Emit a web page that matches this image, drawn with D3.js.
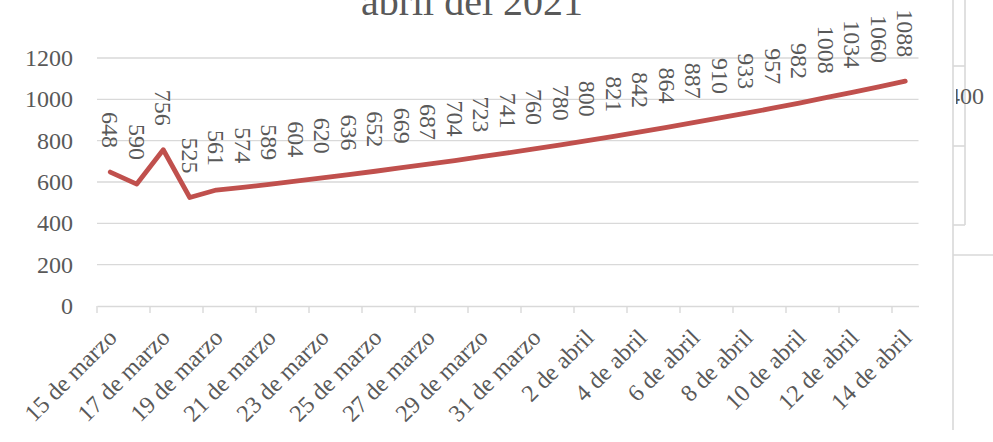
<!DOCTYPE html>
<html>
<head>
<meta charset="utf-8">
<script src="https://cdn.jsdelivr.net/npm/d3@7"></script>
<style>
  body { margin: 0; background: #fff; }
  svg { display: block; font-family: "Liberation Serif", "DejaVu Serif", serif; }
</style>
</head>
<body>
<div id="chart"></div>
<script>
// daily categories, 15 de marzo .. 14 de abril
var dias = ["15 de marzo", "16 de marzo", "17 de marzo", "18 de marzo", "19 de marzo",
    "20 de marzo", "21 de marzo", "22 de marzo", "23 de marzo", "24 de marzo",
    "25 de marzo", "26 de marzo", "27 de marzo", "28 de marzo", "29 de marzo",
    "30 de marzo", "31 de marzo", "1 de abril", "2 de abril", "3 de abril",
    "4 de abril", "5 de abril", "6 de abril", "7 de abril", "8 de abril",
    "9 de abril", "10 de abril", "11 de abril", "12 de abril", "13 de abril",
    "14 de abril"];

var valores = [648, 590, 756, 525, 561, 574, 589, 604, 620, 636, 652, 669, 687, 704, 723,
    741, 760, 780, 800, 821, 842, 864, 887, 910, 933, 957, 982, 1008, 1034, 1060, 1088];

var yTicks = [0, 200, 400, 600, 800, 1000, 1200];

var titulo = "abril del 2021";

var W = 993, H = 442;
var margin = {top: 58, right: 75, bottom: 136, left: 97};

var svg = d3.select("#chart")
    .append("svg")
        .attr("width", W)
        .attr("height", H);

var x = d3.scaleBand()
    .domain(dias)
    .range([margin.left, 918.5])
    .padding(0);

var y = d3.scaleLinear()
    .domain([0, 1200])
    .range([H - margin.bottom, margin.top]);

var grey = "#d9d9d9", txt = "#595959";

// gridlines
svg.append("g")
    .selectAll("line")
    .data(yTicks.filter(function(d) { return d > 0; }))
    .enter()
    .append("line")
    .attr("x1", margin.left)
    .attr("x2", 918.5)
    .attr("y1", function(d) { return y(d); })
    .attr("y2", function(d) { return y(d); })
    .attr("stroke", grey)
    .attr("stroke-width", 1.4);

// y labels
svg.append("g")
    .selectAll("text")
    .data(yTicks)
    .enter()
    .append("text")
    .attr("x", 73)
    .attr("y", function(d) { return y(d); })
    .attr("dy", "0.34em")
    .attr("text-anchor", "end")
    .attr("font-size", "24px")
    .attr("fill", txt)
    .text(function(d) { return d; });

// x axis: ticks between categories, every 2nd
var xAxis = d3.axisBottom(x)
    .tickValues(dias.filter(function(d, i) { return i % 2 == 0; }))
    .tickSize(7)
    .tickSizeOuter(0)
    .tickFormat("");

var gx = svg.append("g")
    .attr("transform", "translate(0," + y(0) + ")")
    .call(xAxis);
gx.select(".domain").attr("stroke", grey).attr("stroke-width", 1.4);
gx.selectAll(".tick").attr("transform", function(d) { return "translate(" + x(d) + ",0)"; });
gx.selectAll(".tick line").attr("stroke", grey).attr("stroke-width", 1.4);

// rotated category labels
svg.append("g")
    .selectAll("text")
    .data(dias.filter(function(d, i) { return i % 2 == 0; }))
    .enter()
    .append("text")
    .attr("transform", function(d) {
        return "translate(" + (x(d) + x.bandwidth() / 2 + 8) + "," + (y(0) + 33) + ") rotate(-45)";
    })
    .attr("text-anchor", "end")
    .attr("font-size", "24px")
    .attr("fill", txt)
    .text(function(d) { return d; });

// line
var line = d3.line()
    .x(function(d, i) { return x(dias[i]) + x.bandwidth() / 2; })
    .y(function(d) { return y(d); });

svg.append("path")
    .datum(valores)
    .attr("d", line)
    .attr("fill", "none")
    .attr("stroke", "#C0504D")
    .attr("stroke-width", 4.8)
    .attr("stroke-linejoin", "round")
    .attr("stroke-linecap", "round");

// data labels, vertical
svg.append("g")
    .selectAll("text")
    .data(valores)
    .enter()
    .append("text")
    .attr("transform", function(d, i) {
        return "translate(" + (x(dias[i]) + x.bandwidth() / 2) + "," + (y(d) - 24) + ") rotate(90)";
    })
    .attr("text-anchor", "end")
    .attr("dy", "0.34em")
    .attr("font-size", "24px")
    .attr("fill", txt)
    .text(function(d) { return d; });

// title (upper line is cut off by the frame)
svg.append("text")
    .attr("x", 472)
    .attr("y", 15)
    .attr("text-anchor", "middle")
    .attr("font-size", "40px")
    .attr("fill", txt)
    .text(titulo);

// pieces of the neighbouring chart on the right
var side = svg.append("g").attr("stroke", grey).attr("stroke-width", 1.6).attr("fill", "none");
side.append("line").attr("x1", 953).attr("x2", 953).attr("y1", 0).attr("y2", 430);
side.append("line").attr("x1", 965).attr("x2", 965).attr("y1", 0).attr("y2", 225);
[66, 146, 225].forEach(function(v) {
    side.append("line").attr("x1", 953).attr("x2", 965).attr("y1", v).attr("y2", v);
});
side.append("line").attr("x1", 953).attr("x2", W).attr("y1", 255).attr("y2", 255);

svg.append("clipPath").attr("id", "clipR")
    .append("rect").attr("x", 956).attr("y", 0).attr("width", 40).attr("height", H);
svg.append("text")
    .attr("clip-path", "url(#clipR)")
    .attr("x", 984)
    .attr("y", 104)
    .attr("text-anchor", "end")
    .attr("font-size", "24px")
    .attr("fill", txt)
    .text("400");
</script>
</body>
</html>
